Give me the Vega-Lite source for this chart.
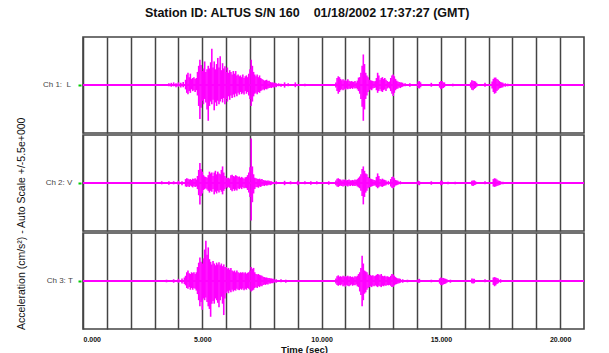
{
  "$schema": "https://vega.github.io/schema/vega-lite/v6.json",
  "background": "white",
  "padding": {"left": 16, "top": 6, "right": 5, "bottom": 5},
  "title": {
    "text": "Station ID: ALTUS S/N 160\u00a0\u00a0\u00a0 01/18/2002 17:37:27 (GMT)",
    "font": "Liberation Sans",
    "fontSize": 12.5,
    "fontWeight": "bold",
    "color": "#111",
    "anchor": "middle",
    "frame": "bounds",
    "dx": 6,
    "offset": 17
  },
  "data": {
    "values": [
      {"c":1,"t":3.6,"lo":-0.15,"hi":0.2},{"c":1,"t":3.7,"lo":-0.2,"hi":0.25},{"c":1,"t":3.8,"lo":-0.15,"hi":0.3},{"c":1,"t":3.9,"lo":-0.25,"hi":0.2},
      {"c":1,"t":4.0,"lo":-0.2,"hi":0.3},{"c":1,"t":4.1,"lo":-0.3,"hi":0.25},{"c":1,"t":4.2,"lo":-0.25,"hi":0.35},
      {"c":1,"t":4.30,"lo":-0.5,"hi":0.6},{"c":1,"t":4.35,"lo":-0.9,"hi":1.2},{"c":1,"t":4.40,"lo":-1.05,"hi":1.4},{"c":1,"t":4.45,"lo":-0.7,"hi":0.9},
      {"c":1,"t":4.50,"lo":-0.9,"hi":1.3},{"c":1,"t":4.55,"lo":-0.5,"hi":0.7},{"c":1,"t":4.60,"lo":-0.7,"hi":0.8},{"c":1,"t":4.65,"lo":-0.6,"hi":0.9},
      {"c":1,"t":4.70,"lo":-0.8,"hi":0.7},{"c":1,"t":4.75,"lo":-0.6,"hi":0.8},{"c":1,"t":4.80,"lo":-1.2,"hi":1.5},{"c":1,"t":4.85,"lo":-2.4,"hi":2.2},
      {"c":1,"t":4.90,"lo":-3.9,"hi":2.9},{"c":1,"t":4.95,"lo":-2.6,"hi":2.3},{"c":1,"t":5.00,"lo":-1.8,"hi":1.6},{"c":1,"t":5.05,"lo":-2.2,"hi":1.9},
      {"c":1,"t":5.10,"lo":-1.6,"hi":2.7},{"c":1,"t":5.15,"lo":-2.0,"hi":1.5},{"c":1,"t":5.20,"lo":-2.8,"hi":1.8},{"c":1,"t":5.25,"lo":-4.1,"hi":2.2},
      {"c":1,"t":5.30,"lo":-2.4,"hi":1.9},{"c":1,"t":5.35,"lo":-1.9,"hi":2.6},{"c":1,"t":5.40,"lo":-2.2,"hi":4.15},{"c":1,"t":5.45,"lo":-1.7,"hi":2.0},
      {"c":1,"t":5.50,"lo":-2.9,"hi":2.7},{"c":1,"t":5.55,"lo":-2.0,"hi":1.8},{"c":1,"t":5.60,"lo":-2.4,"hi":2.4},{"c":1,"t":5.65,"lo":-1.8,"hi":3.1},
      {"c":1,"t":5.70,"lo":-2.2,"hi":2.0},{"c":1,"t":5.75,"lo":-1.9,"hi":3.3},{"c":1,"t":5.80,"lo":-1.6,"hi":1.7},{"c":1,"t":5.85,"lo":-2.0,"hi":2.5},
      {"c":1,"t":5.90,"lo":-1.5,"hi":1.9},{"c":1,"t":5.95,"lo":-2.2,"hi":2.15},{"c":1,"t":6.00,"lo":-1.6,"hi":1.5},{"c":1,"t":6.05,"lo":-1.9,"hi":2.0},
      {"c":1,"t":6.10,"lo":-1.3,"hi":1.4},{"c":1,"t":6.15,"lo":-1.7,"hi":1.7},{"c":1,"t":6.20,"lo":-1.2,"hi":1.5},{"c":1,"t":6.25,"lo":-1.5,"hi":1.2},
      {"c":1,"t":6.30,"lo":-1.1,"hi":1.6},{"c":1,"t":6.35,"lo":-1.4,"hi":1.3},{"c":1,"t":6.40,"lo":-1.0,"hi":1.6},{"c":1,"t":6.45,"lo":-1.3,"hi":1.1},
      {"c":1,"t":6.50,"lo":-0.9,"hi":1.2},{"c":1,"t":6.55,"lo":-1.1,"hi":1.0},{"c":1,"t":6.60,"lo":-0.8,"hi":1.1},{"c":1,"t":6.65,"lo":-1.05,"hi":0.9},
      {"c":1,"t":6.70,"lo":-0.9,"hi":1.2},{"c":1,"t":6.75,"lo":-1.1,"hi":0.8},{"c":1,"t":6.80,"lo":-0.7,"hi":1.0},{"c":1,"t":6.85,"lo":-1.0,"hi":1.1},
      {"c":1,"t":6.90,"lo":-0.8,"hi":0.9},{"c":1,"t":6.95,"lo":-1.2,"hi":1.3},{"c":1,"t":7.00,"lo":-1.6,"hi":1.8},{"c":1,"t":7.05,"lo":-2.4,"hi":2.9},
      {"c":1,"t":7.10,"lo":-1.9,"hi":2.2},{"c":1,"t":7.15,"lo":-1.3,"hi":1.5},{"c":1,"t":7.20,"lo":-1.0,"hi":1.2},{"c":1,"t":7.25,"lo":-0.9,"hi":1.0},
      {"c":1,"t":7.30,"lo":-1.05,"hi":1.2},{"c":1,"t":7.35,"lo":-0.8,"hi":0.9},{"c":1,"t":7.40,"lo":-0.9,"hi":1.1},{"c":1,"t":7.45,"lo":-0.7,"hi":0.8},
      {"c":1,"t":7.50,"lo":-0.6,"hi":0.7},{"c":1,"t":7.55,"lo":-0.5,"hi":0.6},{"c":1,"t":7.60,"lo":-0.6,"hi":0.5},{"c":1,"t":7.65,"lo":-0.45,"hi":0.55},
      {"c":1,"t":7.70,"lo":-0.5,"hi":0.6},{"c":1,"t":7.75,"lo":-0.4,"hi":0.45},{"c":1,"t":7.80,"lo":-0.35,"hi":0.5},{"c":1,"t":7.85,"lo":-0.3,"hi":0.35},
      {"c":1,"t":7.90,"lo":-0.35,"hi":0.3},{"c":1,"t":7.95,"lo":-0.25,"hi":0.3},{"c":1,"t":8.00,"lo":-0.3,"hi":0.25},{"c":1,"t":8.05,"lo":-0.2,"hi":0.25},
      {"c":1,"t":8.10,"lo":-0.25,"hi":0.2},{"c":1,"t":8.2,"lo":-0.15,"hi":0.2},{"c":1,"t":8.3,"lo":-0.2,"hi":0.15},{"c":1,"t":8.45,"lo":-0.3,"hi":0.3},
      {"c":1,"t":8.6,"lo":-0.15,"hi":0.2},{"c":1,"t":8.9,"lo":-0.25,"hi":0.3},{"c":1,"t":9.3,"lo":-0.15,"hi":0.15},
      {"c":1,"t":10.60,"lo":-0.3,"hi":0.3},{"c":1,"t":10.65,"lo":-0.7,"hi":0.8},{"c":1,"t":10.70,"lo":-1.0,"hi":1.0},{"c":1,"t":10.75,"lo":-0.8,"hi":0.9},
      {"c":1,"t":10.80,"lo":-0.6,"hi":0.7},{"c":1,"t":10.85,"lo":-0.5,"hi":0.55},{"c":1,"t":10.90,"lo":-0.6,"hi":0.65},{"c":1,"t":10.95,"lo":-0.45,"hi":0.5},
      {"c":1,"t":11.00,"lo":-0.55,"hi":0.6},{"c":1,"t":11.05,"lo":-0.4,"hi":0.45},{"c":1,"t":11.10,"lo":-0.5,"hi":0.65},{"c":1,"t":11.15,"lo":-0.4,"hi":0.5},
      {"c":1,"t":11.20,"lo":-0.45,"hi":0.4},{"c":1,"t":11.25,"lo":-0.35,"hi":0.45},{"c":1,"t":11.30,"lo":-0.45,"hi":0.4},{"c":1,"t":11.35,"lo":-0.3,"hi":0.35},
      {"c":1,"t":11.40,"lo":-0.4,"hi":0.45},{"c":1,"t":11.45,"lo":-0.35,"hi":0.3},{"c":1,"t":11.50,"lo":-0.5,"hi":0.5},{"c":1,"t":11.55,"lo":-0.7,"hi":0.85},
      {"c":1,"t":11.60,"lo":-1.0,"hi":0.9},{"c":1,"t":11.65,"lo":-1.6,"hi":1.4},{"c":1,"t":11.70,"lo":-2.5,"hi":2.2},{"c":1,"t":11.75,"lo":-4.1,"hi":3.5},
      {"c":1,"t":11.80,"lo":-2.8,"hi":2.4},{"c":1,"t":11.85,"lo":-1.6,"hi":1.4},{"c":1,"t":11.90,"lo":-1.2,"hi":1.1},{"c":1,"t":11.95,"lo":-0.8,"hi":0.9},
      {"c":1,"t":12.00,"lo":-0.6,"hi":0.6},{"c":1,"t":12.05,"lo":-0.5,"hi":0.55},{"c":1,"t":12.10,"lo":-0.6,"hi":0.5},{"c":1,"t":12.15,"lo":-0.4,"hi":0.45},
      {"c":1,"t":12.20,"lo":-0.35,"hi":0.4},{"c":1,"t":12.25,"lo":-0.3,"hi":0.45},{"c":1,"t":12.30,"lo":-0.6,"hi":0.8},{"c":1,"t":12.35,"lo":-0.9,"hi":1.4},
      {"c":1,"t":12.40,"lo":-0.7,"hi":1.1},{"c":1,"t":12.45,"lo":-0.5,"hi":0.6},{"c":1,"t":12.50,"lo":-0.7,"hi":0.8},{"c":1,"t":12.55,"lo":-0.8,"hi":0.9},
      {"c":1,"t":12.60,"lo":-0.6,"hi":0.7},{"c":1,"t":12.65,"lo":-0.5,"hi":0.8},{"c":1,"t":12.70,"lo":-0.7,"hi":0.6},{"c":1,"t":12.75,"lo":-0.4,"hi":0.45},
      {"c":1,"t":12.80,"lo":-0.3,"hi":0.35},{"c":1,"t":12.85,"lo":-0.4,"hi":0.4},{"c":1,"t":12.90,"lo":-0.7,"hi":0.8},{"c":1,"t":12.95,"lo":-1.0,"hi":1.1},
      {"c":1,"t":13.00,"lo":-1.25,"hi":1.2},{"c":1,"t":13.05,"lo":-0.9,"hi":1.0},{"c":1,"t":13.10,"lo":-0.6,"hi":0.7},{"c":1,"t":13.15,"lo":-0.45,"hi":0.5},
      {"c":1,"t":13.20,"lo":-0.4,"hi":0.4},{"c":1,"t":13.25,"lo":-0.3,"hi":0.35},{"c":1,"t":13.30,"lo":-0.35,"hi":0.3},{"c":1,"t":13.35,"lo":-0.25,"hi":0.3},
      {"c":1,"t":13.40,"lo":-0.2,"hi":0.25},{"c":1,"t":13.5,"lo":-0.15,"hi":0.2},{"c":1,"t":13.7,"lo":-0.2,"hi":0.2},
      {"c":1,"t":14.05,"lo":-0.35,"hi":0.4},{"c":1,"t":14.1,"lo":-0.4,"hi":0.45},{"c":1,"t":14.15,"lo":-0.25,"hi":0.3},{"c":1,"t":14.6,"lo":-0.2,"hi":0.25},
      {"c":1,"t":14.95,"lo":-0.3,"hi":0.35},{"c":1,"t":15.0,"lo":-0.5,"hi":0.45},{"c":1,"t":15.05,"lo":-0.4,"hi":0.45},{"c":1,"t":15.1,"lo":-0.35,"hi":0.3},
      {"c":1,"t":15.15,"lo":-0.25,"hi":0.3},{"c":1,"t":15.5,"lo":-0.15,"hi":0.15},
      {"c":1,"t":16.25,"lo":-0.3,"hi":0.3},{"c":1,"t":16.3,"lo":-0.55,"hi":0.55},{"c":1,"t":16.35,"lo":-0.6,"hi":0.5},{"c":1,"t":16.4,"lo":-0.45,"hi":0.45},
      {"c":1,"t":16.45,"lo":-0.35,"hi":0.4},{"c":1,"t":16.5,"lo":-0.2,"hi":0.25},{"c":1,"t":16.85,"lo":-0.2,"hi":0.25},
      {"c":1,"t":17.15,"lo":-0.4,"hi":0.4},{"c":1,"t":17.2,"lo":-0.8,"hi":0.7},{"c":1,"t":17.25,"lo":-1.0,"hi":0.85},{"c":1,"t":17.3,"lo":-0.9,"hi":0.85},
      {"c":1,"t":17.35,"lo":-0.7,"hi":0.7},{"c":1,"t":17.4,"lo":-0.55,"hi":0.6},{"c":1,"t":17.45,"lo":-0.4,"hi":0.45},{"c":1,"t":17.5,"lo":-0.35,"hi":0.35},
      {"c":1,"t":17.55,"lo":-0.3,"hi":0.3},{"c":1,"t":17.6,"lo":-0.25,"hi":0.25},{"c":1,"t":17.7,"lo":-0.2,"hi":0.2},{"c":1,"t":17.8,"lo":-0.15,"hi":0.15},

      {"c":2,"t":3.3,"lo":-0.15,"hi":0.2},{"c":2,"t":3.6,"lo":-0.2,"hi":0.2},{"c":2,"t":3.8,"lo":-0.15,"hi":0.2},{"c":2,"t":4.0,"lo":-0.2,"hi":0.25},
      {"c":2,"t":4.15,"lo":-0.25,"hi":0.2},
      {"c":2,"t":4.30,"lo":-0.4,"hi":0.45},{"c":2,"t":4.35,"lo":-0.45,"hi":0.55},{"c":2,"t":4.40,"lo":-0.35,"hi":0.5},{"c":2,"t":4.45,"lo":-0.45,"hi":0.4},
      {"c":2,"t":4.50,"lo":-0.3,"hi":0.45},{"c":2,"t":4.55,"lo":-0.4,"hi":0.35},{"c":2,"t":4.60,"lo":-0.5,"hi":0.5},{"c":2,"t":4.65,"lo":-0.35,"hi":0.45},
      {"c":2,"t":4.70,"lo":-0.45,"hi":0.55},{"c":2,"t":4.75,"lo":-0.4,"hi":0.4},{"c":2,"t":4.80,"lo":-0.7,"hi":0.8},{"c":2,"t":4.85,"lo":-1.4,"hi":1.5},
      {"c":2,"t":4.90,"lo":-2.45,"hi":2.3},{"c":2,"t":4.95,"lo":-1.5,"hi":1.6},{"c":2,"t":5.00,"lo":-1.2,"hi":1.3},{"c":2,"t":5.05,"lo":-0.8,"hi":0.9},
      {"c":2,"t":5.10,"lo":-0.7,"hi":0.75},{"c":2,"t":5.15,"lo":-0.6,"hi":0.7},{"c":2,"t":5.20,"lo":-0.75,"hi":0.6},{"c":2,"t":5.25,"lo":-0.9,"hi":0.9},
      {"c":2,"t":5.30,"lo":-1.1,"hi":1.3},{"c":2,"t":5.35,"lo":-0.9,"hi":1.1},{"c":2,"t":5.40,"lo":-1.0,"hi":1.2},{"c":2,"t":5.45,"lo":-0.7,"hi":0.8},
      {"c":2,"t":5.50,"lo":-1.3,"hi":1.2},{"c":2,"t":5.55,"lo":-1.0,"hi":1.4},{"c":2,"t":5.60,"lo":-1.2,"hi":1.0},{"c":2,"t":5.65,"lo":-0.9,"hi":1.3},
      {"c":2,"t":5.70,"lo":-1.1,"hi":1.1},{"c":2,"t":5.75,"lo":-0.8,"hi":1.0},{"c":2,"t":5.80,"lo":-1.0,"hi":1.5},{"c":2,"t":5.85,"lo":-1.3,"hi":1.9},
      {"c":2,"t":5.90,"lo":-0.9,"hi":1.2},{"c":2,"t":5.95,"lo":-0.7,"hi":0.8},{"c":2,"t":6.00,"lo":-0.5,"hi":0.6},{"c":2,"t":6.05,"lo":-0.6,"hi":0.55},
      {"c":2,"t":6.10,"lo":-0.45,"hi":0.6},{"c":2,"t":6.15,"lo":-0.55,"hi":0.5},{"c":2,"t":6.20,"lo":-0.8,"hi":0.9},{"c":2,"t":6.25,"lo":-0.95,"hi":0.95},
      {"c":2,"t":6.30,"lo":-0.7,"hi":0.8},{"c":2,"t":6.35,"lo":-0.9,"hi":0.75},{"c":2,"t":6.40,"lo":-0.75,"hi":0.9},{"c":2,"t":6.45,"lo":-0.85,"hi":0.8},
      {"c":2,"t":6.50,"lo":-0.6,"hi":0.7},{"c":2,"t":6.55,"lo":-0.7,"hi":0.75},{"c":2,"t":6.60,"lo":-0.55,"hi":0.6},{"c":2,"t":6.65,"lo":-0.7,"hi":0.7},
      {"c":2,"t":6.70,"lo":-0.5,"hi":0.6},{"c":2,"t":6.75,"lo":-0.6,"hi":0.5},{"c":2,"t":6.80,"lo":-0.55,"hi":0.65},{"c":2,"t":6.85,"lo":-0.6,"hi":0.7},
      {"c":2,"t":6.90,"lo":-0.8,"hi":0.9},{"c":2,"t":6.95,"lo":-1.1,"hi":1.2},{"c":2,"t":7.00,"lo":-1.6,"hi":1.8},{"c":2,"t":7.05,"lo":-4.3,"hi":5.1},
      {"c":2,"t":7.10,"lo":-2.2,"hi":1.9},{"c":2,"t":7.15,"lo":-1.2,"hi":1.0},{"c":2,"t":7.20,"lo":-0.7,"hi":0.6},{"c":2,"t":7.25,"lo":-0.5,"hi":0.55},
      {"c":2,"t":7.30,"lo":-0.45,"hi":0.5},{"c":2,"t":7.35,"lo":-0.55,"hi":0.45},{"c":2,"t":7.40,"lo":-0.4,"hi":0.5},{"c":2,"t":7.45,"lo":-0.45,"hi":0.4},
      {"c":2,"t":7.50,"lo":-0.35,"hi":0.45},{"c":2,"t":7.55,"lo":-0.3,"hi":0.35},{"c":2,"t":7.60,"lo":-0.35,"hi":0.3},{"c":2,"t":7.65,"lo":-0.25,"hi":0.3},
      {"c":2,"t":7.70,"lo":-0.3,"hi":0.25},{"c":2,"t":7.75,"lo":-0.25,"hi":0.3},{"c":2,"t":7.80,"lo":-0.2,"hi":0.25},{"c":2,"t":7.85,"lo":-0.25,"hi":0.2},
      {"c":2,"t":7.90,"lo":-0.2,"hi":0.2},{"c":2,"t":8.1,"lo":-0.15,"hi":0.2},{"c":2,"t":8.45,"lo":-0.25,"hi":0.25},{"c":2,"t":8.7,"lo":-0.15,"hi":0.2},
      {"c":2,"t":9.0,"lo":-0.25,"hi":0.25},{"c":2,"t":9.3,"lo":-0.15,"hi":0.2},{"c":2,"t":9.55,"lo":-0.2,"hi":0.2},{"c":2,"t":9.8,"lo":-0.15,"hi":0.2},
      {"c":2,"t":10.3,"lo":-0.2,"hi":0.2},
      {"c":2,"t":10.60,"lo":-0.25,"hi":0.3},{"c":2,"t":10.65,"lo":-0.4,"hi":0.5},{"c":2,"t":10.70,"lo":-0.45,"hi":0.55},{"c":2,"t":10.75,"lo":-0.35,"hi":0.45},
      {"c":2,"t":10.80,"lo":-0.3,"hi":0.4},{"c":2,"t":10.85,"lo":-0.35,"hi":0.3},{"c":2,"t":10.90,"lo":-0.4,"hi":0.4},{"c":2,"t":10.95,"lo":-0.3,"hi":0.35},
      {"c":2,"t":11.00,"lo":-0.35,"hi":0.4},{"c":2,"t":11.05,"lo":-0.3,"hi":0.3},{"c":2,"t":11.10,"lo":-0.4,"hi":0.35},{"c":2,"t":11.15,"lo":-0.3,"hi":0.4},
      {"c":2,"t":11.20,"lo":-0.35,"hi":0.3},{"c":2,"t":11.25,"lo":-0.25,"hi":0.3},{"c":2,"t":11.30,"lo":-0.35,"hi":0.35},{"c":2,"t":11.35,"lo":-0.3,"hi":0.3},
      {"c":2,"t":11.40,"lo":-0.35,"hi":0.4},{"c":2,"t":11.45,"lo":-0.3,"hi":0.35},{"c":2,"t":11.50,"lo":-0.4,"hi":0.45},{"c":2,"t":11.55,"lo":-0.5,"hi":0.6},
      {"c":2,"t":11.60,"lo":-0.6,"hi":0.75},{"c":2,"t":11.65,"lo":-0.9,"hi":1.0},{"c":2,"t":11.70,"lo":-1.5,"hi":1.6},{"c":2,"t":11.75,"lo":-2.45,"hi":1.9},
      {"c":2,"t":11.80,"lo":-1.6,"hi":1.4},{"c":2,"t":11.85,"lo":-1.1,"hi":1.1},{"c":2,"t":11.90,"lo":-0.9,"hi":1.0},{"c":2,"t":11.95,"lo":-0.6,"hi":0.7},
      {"c":2,"t":12.00,"lo":-0.5,"hi":0.55},{"c":2,"t":12.05,"lo":-0.45,"hi":0.5},{"c":2,"t":12.10,"lo":-0.4,"hi":0.45},{"c":2,"t":12.15,"lo":-0.35,"hi":0.4},
      {"c":2,"t":12.20,"lo":-0.3,"hi":0.35},{"c":2,"t":12.25,"lo":-0.3,"hi":0.3},{"c":2,"t":12.30,"lo":-0.45,"hi":0.7},{"c":2,"t":12.35,"lo":-0.6,"hi":1.1},
      {"c":2,"t":12.40,"lo":-0.5,"hi":0.8},{"c":2,"t":12.45,"lo":-0.35,"hi":0.45},{"c":2,"t":12.50,"lo":-0.4,"hi":0.4},{"c":2,"t":12.55,"lo":-0.45,"hi":0.5},
      {"c":2,"t":12.60,"lo":-0.35,"hi":0.4},{"c":2,"t":12.65,"lo":-0.3,"hi":0.35},{"c":2,"t":12.70,"lo":-0.25,"hi":0.3},{"c":2,"t":12.80,"lo":-0.2,"hi":0.25},
      {"c":2,"t":12.90,"lo":-0.4,"hi":0.45},{"c":2,"t":12.95,"lo":-0.55,"hi":0.7},{"c":2,"t":13.00,"lo":-0.6,"hi":0.75},{"c":2,"t":13.05,"lo":-0.45,"hi":0.55},
      {"c":2,"t":13.10,"lo":-0.3,"hi":0.35},{"c":2,"t":13.15,"lo":-0.25,"hi":0.3},{"c":2,"t":13.20,"lo":-0.2,"hi":0.25},{"c":2,"t":13.3,"lo":-0.15,"hi":0.2},
      {"c":2,"t":14.05,"lo":-0.2,"hi":0.25},{"c":2,"t":14.1,"lo":-0.25,"hi":0.2},{"c":2,"t":14.6,"lo":-0.2,"hi":0.2},{"c":2,"t":15.0,"lo":-0.25,"hi":0.25},
      {"c":2,"t":15.05,"lo":-0.2,"hi":0.25},{"c":2,"t":15.3,"lo":-0.15,"hi":0.15},{"c":2,"t":15.6,"lo":-0.15,"hi":0.15},
      {"c":2,"t":16.3,"lo":-0.3,"hi":0.25},{"c":2,"t":16.35,"lo":-0.35,"hi":0.3},{"c":2,"t":16.4,"lo":-0.25,"hi":0.3},{"c":2,"t":16.45,"lo":-0.2,"hi":0.2},
      {"c":2,"t":16.85,"lo":-0.15,"hi":0.2},{"c":2,"t":17.2,"lo":-0.4,"hi":0.45},{"c":2,"t":17.25,"lo":-0.45,"hi":0.55},{"c":2,"t":17.3,"lo":-0.4,"hi":0.5},
      {"c":2,"t":17.35,"lo":-0.35,"hi":0.4},{"c":2,"t":17.4,"lo":-0.3,"hi":0.3},{"c":2,"t":17.45,"lo":-0.25,"hi":0.25},{"c":2,"t":17.5,"lo":-0.2,"hi":0.2},
      {"c":2,"t":17.6,"lo":-0.15,"hi":0.15},

      {"c":3,"t":3.5,"lo":-0.15,"hi":0.15},{"c":3,"t":3.8,"lo":-0.2,"hi":0.2},{"c":3,"t":4.0,"lo":-0.2,"hi":0.25},{"c":3,"t":4.15,"lo":-0.3,"hi":0.3},
      {"c":3,"t":4.25,"lo":-0.35,"hi":0.4},
      {"c":3,"t":4.30,"lo":-0.5,"hi":0.6},{"c":3,"t":4.35,"lo":-0.8,"hi":1.0},{"c":3,"t":4.40,"lo":-0.9,"hi":1.2},{"c":3,"t":4.45,"lo":-0.7,"hi":0.9},
      {"c":3,"t":4.50,"lo":-1.0,"hi":0.8},{"c":3,"t":4.55,"lo":-0.8,"hi":1.0},{"c":3,"t":4.60,"lo":-1.0,"hi":0.9},{"c":3,"t":4.65,"lo":-0.8,"hi":1.0},
      {"c":3,"t":4.70,"lo":-0.9,"hi":0.8},{"c":3,"t":4.75,"lo":-1.1,"hi":1.0},{"c":3,"t":4.80,"lo":-1.5,"hi":1.6},{"c":3,"t":4.85,"lo":-2.2,"hi":2.1},
      {"c":3,"t":4.90,"lo":-2.9,"hi":2.7},{"c":3,"t":4.95,"lo":-2.4,"hi":2.2},{"c":3,"t":5.00,"lo":-3.3,"hi":2.0},{"c":3,"t":5.05,"lo":-2.0,"hi":2.6},
      {"c":3,"t":5.10,"lo":-2.2,"hi":3.6},{"c":3,"t":5.15,"lo":-1.9,"hi":4.6},{"c":3,"t":5.20,"lo":-2.4,"hi":3.0},{"c":3,"t":5.25,"lo":-2.9,"hi":3.85},
      {"c":3,"t":5.30,"lo":-3.2,"hi":2.5},{"c":3,"t":5.35,"lo":-4.1,"hi":2.2},{"c":3,"t":5.40,"lo":-2.6,"hi":1.9},{"c":3,"t":5.45,"lo":-2.3,"hi":2.3},
      {"c":3,"t":5.50,"lo":-2.6,"hi":2.0},{"c":3,"t":5.55,"lo":-2.0,"hi":1.8},{"c":3,"t":5.60,"lo":-2.2,"hi":2.1},{"c":3,"t":5.65,"lo":-2.5,"hi":1.9},
      {"c":3,"t":5.70,"lo":-3.0,"hi":2.15},{"c":3,"t":5.75,"lo":-2.2,"hi":1.8},{"c":3,"t":5.80,"lo":-1.8,"hi":2.0},{"c":3,"t":5.85,"lo":-2.6,"hi":1.7},
      {"c":3,"t":5.90,"lo":-3.9,"hi":1.9},{"c":3,"t":5.95,"lo":-2.0,"hi":1.6},{"c":3,"t":6.00,"lo":-1.4,"hi":1.6},{"c":3,"t":6.05,"lo":-1.2,"hi":1.4},
      {"c":3,"t":6.10,"lo":-1.4,"hi":1.5},{"c":3,"t":6.15,"lo":-1.1,"hi":1.3},{"c":3,"t":6.20,"lo":-1.3,"hi":1.5},{"c":3,"t":6.25,"lo":-1.0,"hi":1.2},
      {"c":3,"t":6.30,"lo":-1.2,"hi":1.1},{"c":3,"t":6.35,"lo":-1.05,"hi":1.2},{"c":3,"t":6.40,"lo":-1.1,"hi":1.0},{"c":3,"t":6.45,"lo":-0.9,"hi":1.2},
      {"c":3,"t":6.50,"lo":-1.0,"hi":1.0},{"c":3,"t":6.55,"lo":-1.05,"hi":0.9},{"c":3,"t":6.60,"lo":-0.9,"hi":1.0},{"c":3,"t":6.65,"lo":-1.0,"hi":0.95},
      {"c":3,"t":6.70,"lo":-0.85,"hi":1.0},{"c":3,"t":6.75,"lo":-1.05,"hi":0.9},{"c":3,"t":6.80,"lo":-0.9,"hi":1.0},{"c":3,"t":6.85,"lo":-1.0,"hi":0.85},
      {"c":3,"t":6.90,"lo":-0.8,"hi":0.95},{"c":3,"t":6.95,"lo":-0.9,"hi":1.0},{"c":3,"t":7.00,"lo":-1.0,"hi":1.2},{"c":3,"t":7.05,"lo":-1.2,"hi":1.6},
      {"c":3,"t":7.10,"lo":-1.1,"hi":1.4},{"c":3,"t":7.15,"lo":-1.0,"hi":1.5},{"c":3,"t":7.20,"lo":-0.8,"hi":1.0},{"c":3,"t":7.25,"lo":-0.7,"hi":0.8},
      {"c":3,"t":7.30,"lo":-0.8,"hi":0.75},{"c":3,"t":7.35,"lo":-0.6,"hi":0.8},{"c":3,"t":7.40,"lo":-0.7,"hi":0.7},{"c":3,"t":7.45,"lo":-0.55,"hi":0.65},
      {"c":3,"t":7.50,"lo":-0.6,"hi":0.6},{"c":3,"t":7.55,"lo":-0.45,"hi":0.5},{"c":3,"t":7.60,"lo":-0.4,"hi":0.45},{"c":3,"t":7.65,"lo":-0.45,"hi":0.4},
      {"c":3,"t":7.70,"lo":-0.35,"hi":0.4},{"c":3,"t":7.75,"lo":-0.4,"hi":0.35},{"c":3,"t":7.80,"lo":-0.3,"hi":0.35},{"c":3,"t":7.85,"lo":-0.3,"hi":0.3},
      {"c":3,"t":7.90,"lo":-0.25,"hi":0.3},{"c":3,"t":7.95,"lo":-0.25,"hi":0.25},{"c":3,"t":8.00,"lo":-0.2,"hi":0.25},{"c":3,"t":8.1,"lo":-0.2,"hi":0.2},
      {"c":3,"t":8.3,"lo":-0.15,"hi":0.2},{"c":3,"t":8.5,"lo":-0.2,"hi":0.15},
      {"c":3,"t":10.60,"lo":-0.3,"hi":0.3},{"c":3,"t":10.65,"lo":-0.45,"hi":0.55},{"c":3,"t":10.70,"lo":-0.55,"hi":0.65},{"c":3,"t":10.75,"lo":-0.45,"hi":0.5},
      {"c":3,"t":10.80,"lo":-0.5,"hi":0.55},{"c":3,"t":10.85,"lo":-0.4,"hi":0.45},{"c":3,"t":10.90,"lo":-0.6,"hi":0.6},{"c":3,"t":10.95,"lo":-0.5,"hi":0.5},
      {"c":3,"t":11.00,"lo":-0.65,"hi":0.55},{"c":3,"t":11.05,"lo":-0.45,"hi":0.5},{"c":3,"t":11.10,"lo":-0.55,"hi":0.6},{"c":3,"t":11.15,"lo":-0.6,"hi":0.5},
      {"c":3,"t":11.20,"lo":-0.5,"hi":0.55},{"c":3,"t":11.25,"lo":-0.4,"hi":0.45},{"c":3,"t":11.30,"lo":-0.55,"hi":0.5},{"c":3,"t":11.35,"lo":-0.45,"hi":0.4},
      {"c":3,"t":11.40,"lo":-0.5,"hi":0.55},{"c":3,"t":11.45,"lo":-0.4,"hi":0.5},{"c":3,"t":11.50,"lo":-0.6,"hi":0.6},{"c":3,"t":11.55,"lo":-0.7,"hi":0.8},
      {"c":3,"t":11.60,"lo":-1.2,"hi":1.0},{"c":3,"t":11.65,"lo":-1.6,"hi":1.5},{"c":3,"t":11.70,"lo":-2.9,"hi":2.9},{"c":3,"t":11.75,"lo":-2.2,"hi":2.0},
      {"c":3,"t":11.80,"lo":-1.45,"hi":1.2},{"c":3,"t":11.85,"lo":-1.3,"hi":1.1},{"c":3,"t":11.90,"lo":-1.0,"hi":1.0},{"c":3,"t":11.95,"lo":-0.8,"hi":0.75},
      {"c":3,"t":12.00,"lo":-0.7,"hi":0.65},{"c":3,"t":12.05,"lo":-0.6,"hi":0.7},{"c":3,"t":12.10,"lo":-0.7,"hi":0.6},{"c":3,"t":12.15,"lo":-0.55,"hi":0.65},
      {"c":3,"t":12.20,"lo":-0.6,"hi":0.55},{"c":3,"t":12.25,"lo":-0.5,"hi":0.6},{"c":3,"t":12.30,"lo":-0.6,"hi":0.7},{"c":3,"t":12.35,"lo":-0.7,"hi":0.8},
      {"c":3,"t":12.40,"lo":-0.55,"hi":0.75},{"c":3,"t":12.45,"lo":-0.6,"hi":0.65},{"c":3,"t":12.50,"lo":-0.7,"hi":0.8},{"c":3,"t":12.55,"lo":-0.55,"hi":0.6},
      {"c":3,"t":12.60,"lo":-0.6,"hi":0.55},{"c":3,"t":12.65,"lo":-0.5,"hi":0.6},{"c":3,"t":12.70,"lo":-0.55,"hi":0.5},{"c":3,"t":12.75,"lo":-0.45,"hi":0.55},
      {"c":3,"t":12.80,"lo":-0.5,"hi":0.5},{"c":3,"t":12.85,"lo":-0.45,"hi":0.45},{"c":3,"t":12.90,"lo":-0.55,"hi":0.6},{"c":3,"t":12.95,"lo":-0.7,"hi":0.8},
      {"c":3,"t":13.00,"lo":-0.65,"hi":0.75},{"c":3,"t":13.05,"lo":-0.5,"hi":0.6},{"c":3,"t":13.10,"lo":-0.4,"hi":0.45},{"c":3,"t":13.15,"lo":-0.35,"hi":0.35},
      {"c":3,"t":13.20,"lo":-0.3,"hi":0.3},{"c":3,"t":13.25,"lo":-0.25,"hi":0.3},{"c":3,"t":13.3,"lo":-0.2,"hi":0.25},{"c":3,"t":13.4,"lo":-0.2,"hi":0.2},
      {"c":3,"t":13.6,"lo":-0.15,"hi":0.15},{"c":3,"t":14.05,"lo":-0.2,"hi":0.2},{"c":3,"t":14.1,"lo":-0.2,"hi":0.25},{"c":3,"t":14.6,"lo":-0.15,"hi":0.15},
      {"c":3,"t":14.95,"lo":-0.3,"hi":0.3},{"c":3,"t":15.0,"lo":-0.45,"hi":0.4},{"c":3,"t":15.05,"lo":-0.5,"hi":0.35},{"c":3,"t":15.1,"lo":-0.4,"hi":0.35},
      {"c":3,"t":15.15,"lo":-0.35,"hi":0.3},{"c":3,"t":15.2,"lo":-0.3,"hi":0.25},{"c":3,"t":15.25,"lo":-0.2,"hi":0.2},{"c":3,"t":15.4,"lo":-0.2,"hi":0.15},
      {"c":3,"t":16.3,"lo":-0.25,"hi":0.3},{"c":3,"t":16.35,"lo":-0.3,"hi":0.25},{"c":3,"t":16.4,"lo":-0.25,"hi":0.25},{"c":3,"t":16.85,"lo":-0.15,"hi":0.2},
      {"c":3,"t":17.2,"lo":-0.45,"hi":0.4},{"c":3,"t":17.25,"lo":-0.6,"hi":0.45},{"c":3,"t":17.3,"lo":-0.5,"hi":0.4},{"c":3,"t":17.35,"lo":-0.35,"hi":0.35},
      {"c":3,"t":17.4,"lo":-0.25,"hi":0.3},{"c":3,"t":17.5,"lo":-0.2,"hi":0.2},{"c":3,"t":20.0,"lo":-0.1,"hi":0.15}
    ]
  },
  "facet": {
    "row": {
      "field": "c",
      "type": "ordinal",
      "title": "Acceleration (cm/s²) - Auto Scale +/-5.5e+000",
      "header": {
        "labelOrient": "left",
        "labelAngle": 0,
        "labelAlign": "right",
        "labelBaseline": "middle",
        "labelAnchor": "middle",
        "labelFont": "Liberation Sans",
        "labelFontSize": 8,
        "labelColor": "#444",
        "labelPadding": -22,
        "labelExpr": "datum.value == 1 ? 'Ch 1:\u00a0\u00a0L' : datum.value == 2 ? 'Ch 2: V' : 'Ch 3: T'",
        "titleOrient": "left",
        "titleAngle": -90,
        "titleAnchor": "start",
        "titleFont": "Liberation Sans",
        "titleFontSize": 10.5,
        "titleFontWeight": "normal",
        "titleColor": "#111",
        "titlePadding": -5
      }
    }
  },
  "spacing": {"row": 0},
  "spec": {
    "width": 501,
    "height": 96,
    "encoding": {
      "x": {
        "field": "t",
        "type": "quantitative",
        "scale": {"domain": [0, 21], "nice": false, "zero": false},
        "axis": {
          "values": [0, 1, 2, 3, 4, 5, 6, 7, 8, 9, 10, 11, 12, 13, 14, 15, 16, 17, 18, 19, 20],
          "labelExpr": "datum.value % 5 == 0 ? format(datum.value, '.3f') : ''",
          "grid": true,
          "gridColor": "#444",
          "gridWidth": 1.5,
          "gridOpacity": 1,
          "ticks": false,
          "domain": false,
          "labelFont": "Liberation Sans",
          "labelFontSize": 7,
          "labelFontWeight": "bold",
          "labelColor": "#111",
          "labelPadding": 5,
          "title": "Time (sec)",
          "titleX": 221,
          "titleFont": "Liberation Sans",
          "titleFontSize": 9.5,
          "titleFontWeight": "bold",
          "titleColor": "#111",
          "titlePadding": 2
        }
      }
    },
    "layer": [
      {
        "transform": [{"aggregate": [{"op": "count", "as": "n"}], "groupby": ["c"]}],
        "mark": {"type": "rule", "color": "#ff00ff", "strokeWidth": 1.8},
        "encoding": {"x": null, "y": {"datum": 0, "type": "quantitative"}}
      },
      {
        "mark": {"type": "rule", "color": "#ff00ff", "strokeWidth": 1.6},
        "encoding": {
          "y": {
            "field": "lo",
            "type": "quantitative",
            "scale": {"domain": [-5.5, 5.5], "nice": false, "zero": false},
            "axis": {
              "values": [0],
              "labels": false,
              "domain": false,
              "grid": false,
              "ticks": true,
              "tickColor": "#00cc00",
              "tickSize": 3,
              "tickWidth": 2,
              "minExtent": 0,
              "maxExtent": 3,
              "title": null
            }
          },
          "y2": {"field": "hi"}
        }
      }
    ]
  },
  "config": {
    "view": {"stroke": "#444", "strokeWidth": 1.6},
    "font": "Liberation Sans"
  }
}
